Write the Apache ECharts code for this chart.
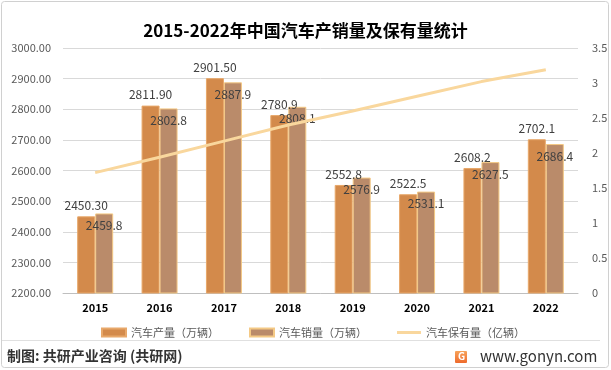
<!DOCTYPE html>
<html><head><meta charset="utf-8">
<script src="https://cdn.jsdelivr.net/npm/echarts@6/dist/echarts.min.js"></script>
<style>html,body{margin:0;padding:0;background:#fff}#c{width:611px;height:370px}</style>
</head><body><div id="c"></div>
<script>
const years = ['2015','2016','2017','2018','2019','2020','2021','2022'];
const production = [2450.3, 2811.9, 2901.5, 2780.9, 2552.8, 2522.5, 2608.2, 2702.1];
const productionLabels = ['2450.30','2811.90','2901.50','2780.9','2552.8','2522.5','2608.2','2702.1'];
const sales = [2459.8, 2802.8, 2887.9, 2808.1, 2576.9, 2531.1, 2627.5, 2686.4];
const salesLabels = ['2459.8','2802.8','2887.9','2808.1','2576.9','2531.1','2627.5','2686.4'];
const ownership = [1.72, 1.94, 2.17, 2.40, 2.60, 2.81, 3.02, 3.19];
const seriesNames = ['汽车产量（万辆）','汽车销量（万辆）','汽车保有量（亿辆）'];
const titleText = '2015-2022年中国汽车产销量及保有量统计';

const chart = echarts.init(document.getElementById('c'));
const font = '"Microsoft YaHei","Noto Sans CJK SC",sans-serif';
chart.setOption({
  animation: false,
  textStyle: {fontFamily: font},
  title: {text: titleText, left: 'center', top: 17,
    textStyle: {fontSize: 17, fontWeight: 'bold', color: '#000', fontFamily: font}},
  grid: {left: 63, right: 33, top: 48, bottom: 77},
  legend: {left: 96, top: 322, itemWidth: 24, itemHeight: 8, itemGap: 30,
    textStyle: {fontSize: 11, color: '#595959'},
    data: [
      {name: seriesNames[0], icon: 'rect'},
      {name: seriesNames[1], icon: 'rect'},
      {name: seriesNames[2], icon: 'path://M0,0H24V3H0Z'}
    ]},
  xAxis: {type: 'category', data: years,
    axisLine: {lineStyle: {color: '#bfbfbf'}}, axisTick: {show: false},
    axisLabel: {color: '#000', fontSize: 11, fontWeight: 'bold', margin: 9}},
  yAxis: [
    {type: 'value', min: 2200, max: 3000, interval: 100,
     axisLabel: {color: '#595959', fontSize: 11, margin: 12, formatter: v => v.toFixed(2)},
     splitLine: {lineStyle: {color: '#d9d9d9'}}, axisLine: {show: false}, axisTick: {show: false}},
    {type: 'value', min: 0, max: 3.5, interval: 0.5,
     axisLabel: {color: '#595959', fontSize: 11, margin: 14},
     splitLine: {show: false}, axisLine: {show: false}, axisTick: {show: false}}
  ],
  series: [
    {name: seriesNames[0], type: 'bar', data: production, barWidth: 18, barGap: '0%',
     itemStyle: {color: '#D38A4B', borderColor: '#E8A86A', borderWidth: 1},
     label: {show: true, position: 'top', distance: 5, color: '#404040', fontSize: 12,
       formatter: p => productionLabels[p.dataIndex]}},
    {name: seriesNames[1], type: 'bar', data: sales, barWidth: 18,
     itemStyle: {color: '#BA8B6A', borderColor: '#F4C985', borderWidth: 1},
     label: {show: true, position: 'insideTop', distance: 6, color: '#404040', fontSize: 12,
       formatter: p => salesLabels[p.dataIndex]}},
    {name: seriesNames[2], type: 'line', yAxisIndex: 1, data: ownership,
     symbol: 'none', lineStyle: {color: '#F9D79D', width: 3}, itemStyle: {color: '#F9D79D'}, z: 5}
  ],
  graphic: [
    {type: 'rect', shape: {x: 1.5, y: 1.5, width: 607, height: 366, r: 3},
     style: {fill: 'none', stroke: '#d0d0d0', lineWidth: 1}, silent: true},
    {type: 'line', shape: {x1: 2, y1: 340.5, x2: 600, y2: 340.5},
     style: {stroke: '#e0e0e0', lineWidth: 1}},
    {type: 'text', left: 7, top: 349,
     style: {text: '制图: 共研产业咨询 (共研网)', fontSize: 14, fontWeight: 'bold', fill: '#333', fontFamily: font}},
    {type: 'rect', shape: {x: 455, y: 351, width: 12, height: 12, r: 1},
     style: {fill: new echarts.graphic.LinearGradient(0, 0, 0, 1, [{offset: 0, color: '#F7A35A'}, {offset: 1, color: '#EE6A2C'}])}},
    {type: 'text', left: 458, top: 351,
     style: {text: 'G', fontSize: 10, fontWeight: 'bold', fill: '#fff', fontFamily: font}},
    {type: 'text', left: 480, top: 349,
     style: {text: 'www.gonyn.com', fontSize: 15, fill: '#333', fontFamily: font}}
  ]
});
</script></body></html>
